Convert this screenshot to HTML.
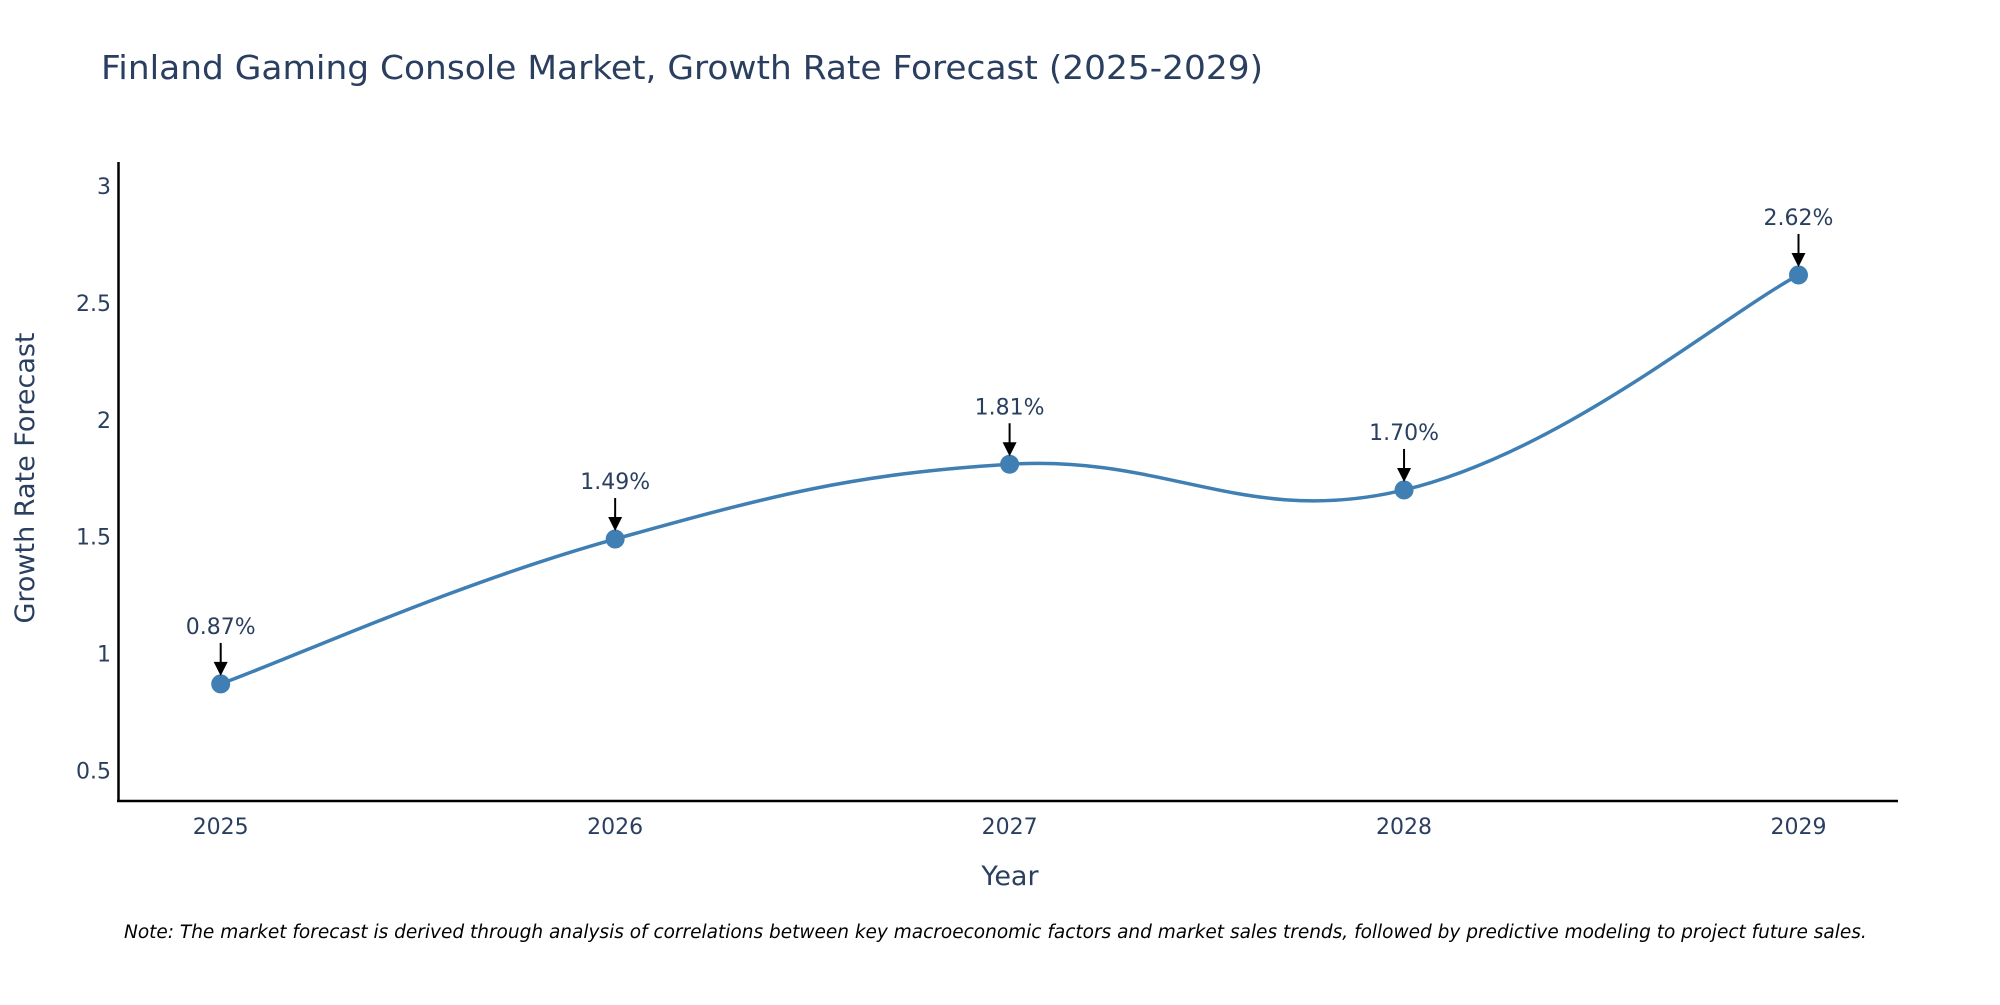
<!DOCTYPE html>
<html><head><meta charset="utf-8"><style>
body{margin:0;background:#fff;}
svg text{font-family:"DejaVu Sans","Liberation Sans",sans-serif;fill:#2a3f5f;}
</style></head><body>
<svg id="chart" width="2000" height="1000" viewBox="0 0 2000 1000">
<text x="101" y="79" font-size="33" textLength="1162" lengthAdjust="spacingAndGlyphs">Finland Gaming Console Market, Growth Rate Forecast (2025-2029)</text>
<g id="yticks"></g>
<g id="xticks"></g>
<line x1="118.5" y1="162" x2="118.5" y2="802" stroke="#000" stroke-width="2.5"/>
<line x1="117" y1="801" x2="1898" y2="801" stroke="#000" stroke-width="2.5"/>
<text x="34" y="478" font-size="27" text-anchor="middle" transform="rotate(-90 34 478)">Growth Rate Forecast</text>
<text x="1010" y="885" font-size="27" text-anchor="middle">Year</text>
<path id="line" fill="none" stroke="#3f7fb3" stroke-width="3.5"/>
<g id="points"></g>
<g id="annots"></g>
<text x="124" y="938" font-size="18.5" font-style="italic" style="fill:#000">Note: The market forecast is derived through analysis of correlations between key macroeconomic factors and market sales trends, followed by predictive modeling to project future sales.</text>
</svg>
<script>
const years = [2025, 2026, 2027, 2028, 2029];
const growth = [0.87, 1.49, 1.81, 1.70, 2.62];
const yTicks = [0.5, 1, 1.5, 2, 2.5, 3];
const NS = "http://www.w3.org/2000/svg";
function xs(v){ return 220.7 + (v - 2025) * 394.45; }
function ys(v){ return 770.4 - (v - 0.5) * 233.7; }
const yt = document.getElementById('yticks');
yTicks.forEach(v => {
  const t = document.createElementNS(NS, 'text');
  
  
  t.setAttribute('x', 111); t.setAttribute('y', ys(v) + 8);
  t.setAttribute('font-size', '22'); t.setAttribute('text-anchor', 'end');
  t.textContent = v; yt.appendChild(t);
});
const xt = document.getElementById('xticks');
years.forEach(v => {
  const t = document.createElementNS(NS, 'text');
  
  
  t.setAttribute('x', xs(v)); t.setAttribute('y', 834);
  t.setAttribute('font-size', '22'); t.setAttribute('text-anchor', 'middle');
  t.textContent = v; xt.appendChild(t);
});
const P = years.map((y, i) => [xs(y), ys(growth[i])]);
let d = 'M' + P[0][0] + ',' + P[0][1];
const k = 0.2;
for (let i = 0; i < P.length - 1; i++) {
  const p0 = P[Math.max(i - 1, 0)], p1 = P[i], p2 = P[i + 1], p3 = P[Math.min(i + 2, P.length - 1)];
  const c1 = [p1[0] + (p2[0] - p0[0]) * k, p1[1] + (p2[1] - p0[1]) * k];
  const c2 = [p2[0] - (p3[0] - p1[0]) * k, p2[1] - (p3[1] - p1[1]) * k];
  d += ' C' + c1 + ' ' + c2 + ' ' + p2;
}
document.getElementById('line').setAttribute('d', d);
const pts = document.getElementById('points');
const an = document.getElementById('annots');
P.forEach((p, i) => {
  const c = document.createElementNS(NS, 'circle');
  
  
  c.setAttribute('cx', p[0]); c.setAttribute('cy', p[1]); c.setAttribute('r', 9.5);
  c.setAttribute('fill', '#3f7fb3'); pts.appendChild(c);
  const l = document.createElementNS(NS, 'line');
  
  
  l.setAttribute('x1', p[0]); l.setAttribute('x2', p[0]);
  l.setAttribute('y1', p[1] - 41); l.setAttribute('y2', p[1] - 20);
  l.setAttribute('stroke', '#000'); l.setAttribute('stroke-width', '2'); an.appendChild(l);
  const h = document.createElementNS(NS, 'polygon');
  
  
  h.setAttribute('points', (p[0]-7)+','+(p[1]-22)+' '+(p[0]+7)+','+(p[1]-22)+' '+p[0]+','+(p[1]-8));
  h.setAttribute('fill', '#000'); an.appendChild(h);
  const t = document.createElementNS(NS, 'text');
  
  
  t.setAttribute('x', p[0]); t.setAttribute('y', p[1] - 50);
  t.setAttribute('font-size', '22'); t.setAttribute('text-anchor', 'middle');
  t.textContent = growth[i].toFixed(2) + '%'; an.appendChild(t);
});
</script>
</body></html>
